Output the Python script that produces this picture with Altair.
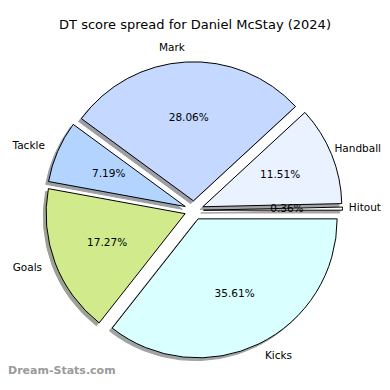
import math
import altair as alt
import pandas as pd

# ---- data ----
categories = ["Kicks", "Goals", "Tackle", "Mark", "Handball", "Hitout"]
values = [35.61, 17.27, 7.19, 28.06, 11.51, 0.36]
face_colors = ["#DAFFFF", "#D0EA8C", "#B3D4FF", "#C5D8FF", "#EAF1FF", "#FFFFFF"]
title_text = "DT score spread for Daniel McStay (2024)"
watermark_text = "Dream-Stats.com"

# ---- layout constants ----
W, H = 374, 368
CX, CY = 186.0, 202.3
R = 139.0
EXPL = 9.5
SHADOW = 2.8
RIGHT_EDGE = W - 1
PI = math.pi


def shade(hexc):
    r, g, b = (int(hexc[i:i + 2], 16) for i in (1, 3, 5))
    return "#%02x%02x%02x" % (int(r * 0.3), int(g * 0.3), int(b * 0.3))


shadow_colors = [shade(c) for c in face_colors]

df = pd.DataFrame({"cat": categories, "value": values, "order": list(range(len(values)))})

base = (
    alt.Chart(df)
    .transform_joinaggregate(total="sum(value)")
    .transform_window(cum="sum(value)", sort=[alt.SortField("order")], frame=[None, 0])
    .transform_calculate(
        f0="(datum.cum - datum.value) / datum.total",
        f1="datum.cum / datum.total",
    )
    .transform_calculate(
        a=f"{PI/2} + {2*PI} * (datum.f0 + datum.f1) / 2"
    )
    .transform_calculate(
        ux="sin(datum.a)",
        uy="-cos(datum.a)",
    )
    .transform_calculate(
        px=f"{CX} + {EXPL} * datum.ux",
        py=f"{CY} + {EXPL} * datum.uy",
        sx=f"{CX} + {EXPL} * datum.ux - {SHADOW}",
        sy=f"{CY} + {EXPL} * datum.uy + {SHADOW}",
        lx=f"{CX} + {EXPL + 1.1 * R} * datum.ux",
        ly=f"{CY} + {EXPL + 1.1 * R} * datum.uy",
        tx=f"{CX} + {EXPL + 0.6 * R} * datum.ux",
        ty=f"{CY} + {EXPL + 0.6 * R} * datum.uy",
        pct="format(datum.value / datum.total * 100, '.2f') + '%'",
    )
)

theta_scale = alt.Scale(domain=[0, 1], range=[PI / 2, PI / 2 + 2 * PI])

shadow = base.mark_arc(radius=R, opacity=0.5, strokeWidth=1).encode(
    theta=alt.Theta("f0:Q", scale=theta_scale, stack=None),
    theta2="f1:Q",
    x=alt.X("sx:Q", scale=None),
    y=alt.Y("sy:Q", scale=None),
    fill=alt.Fill("cat:N", scale=alt.Scale(domain=categories, range=shadow_colors), legend=None),
    stroke=alt.Stroke("cat:N", scale=alt.Scale(domain=categories, range=shadow_colors), legend=None),
)

wedges = base.mark_arc(radius=R, stroke="black", strokeWidth=1).encode(
    theta=alt.Theta("f0:Q", scale=theta_scale, stack=None),
    theta2="f1:Q",
    x=alt.X("px:Q", scale=None),
    y=alt.Y("py:Q", scale=None),
    color=alt.Color("cat:N", scale=alt.Scale(domain=categories, range=face_colors), legend=None),
)

text_style = dict(baseline="middle", font="DejaVu Sans", fontSize=10.5, color="black")

# right-hand labels that fit
labels_right = base.transform_filter("datum.ux > 0 && datum.ux <= 0.8").mark_text(
    align="left", **text_style
).encode(x=alt.X("lx:Q", scale=None), y=alt.Y("ly:Q", scale=None), text="cat:N")

# far-right labels, kept inside the canvas edge
labels_far_right = base.transform_filter("datum.ux > 0.8").mark_text(
    align="right", **text_style
).encode(x=alt.value(RIGHT_EDGE), y=alt.Y("ly:Q", scale=None), text="cat:N")

labels_left = base.transform_filter("datum.ux <= 0").mark_text(
    align="right", **text_style
).encode(x=alt.X("lx:Q", scale=None), y=alt.Y("ly:Q", scale=None), text="cat:N")

pcts = base.mark_text(align="center", **text_style).encode(
    x=alt.X("tx:Q", scale=None), y=alt.Y("ty:Q", scale=None), text="pct:N"
)

title = alt.Chart(pd.DataFrame({"t": [title_text]})).mark_text(
    align="center", baseline="middle", font="DejaVu Sans", fontSize=13, color="black"
).encode(x=alt.value(187), y=alt.value(17), text="t:N")

watermark = alt.Chart(pd.DataFrame({"t": [watermark_text]})).mark_text(
    align="left", baseline="bottom", font="DejaVu Sans", fontSize=11, fontWeight="bold", color="#9a9a9a"
).encode(x=alt.value(0), y=alt.value(368), text="t:N")

chart = (
    alt.layer(shadow, wedges, pcts, labels_right, labels_far_right, labels_left, title, watermark)
    .properties(width=W, height=H, autosize=alt.AutoSizeParams(type="none"), padding=0)
    .configure_view(stroke=None)
)

chart.save("out.html", embed_options={"renderer": "svg", "actions": False})
